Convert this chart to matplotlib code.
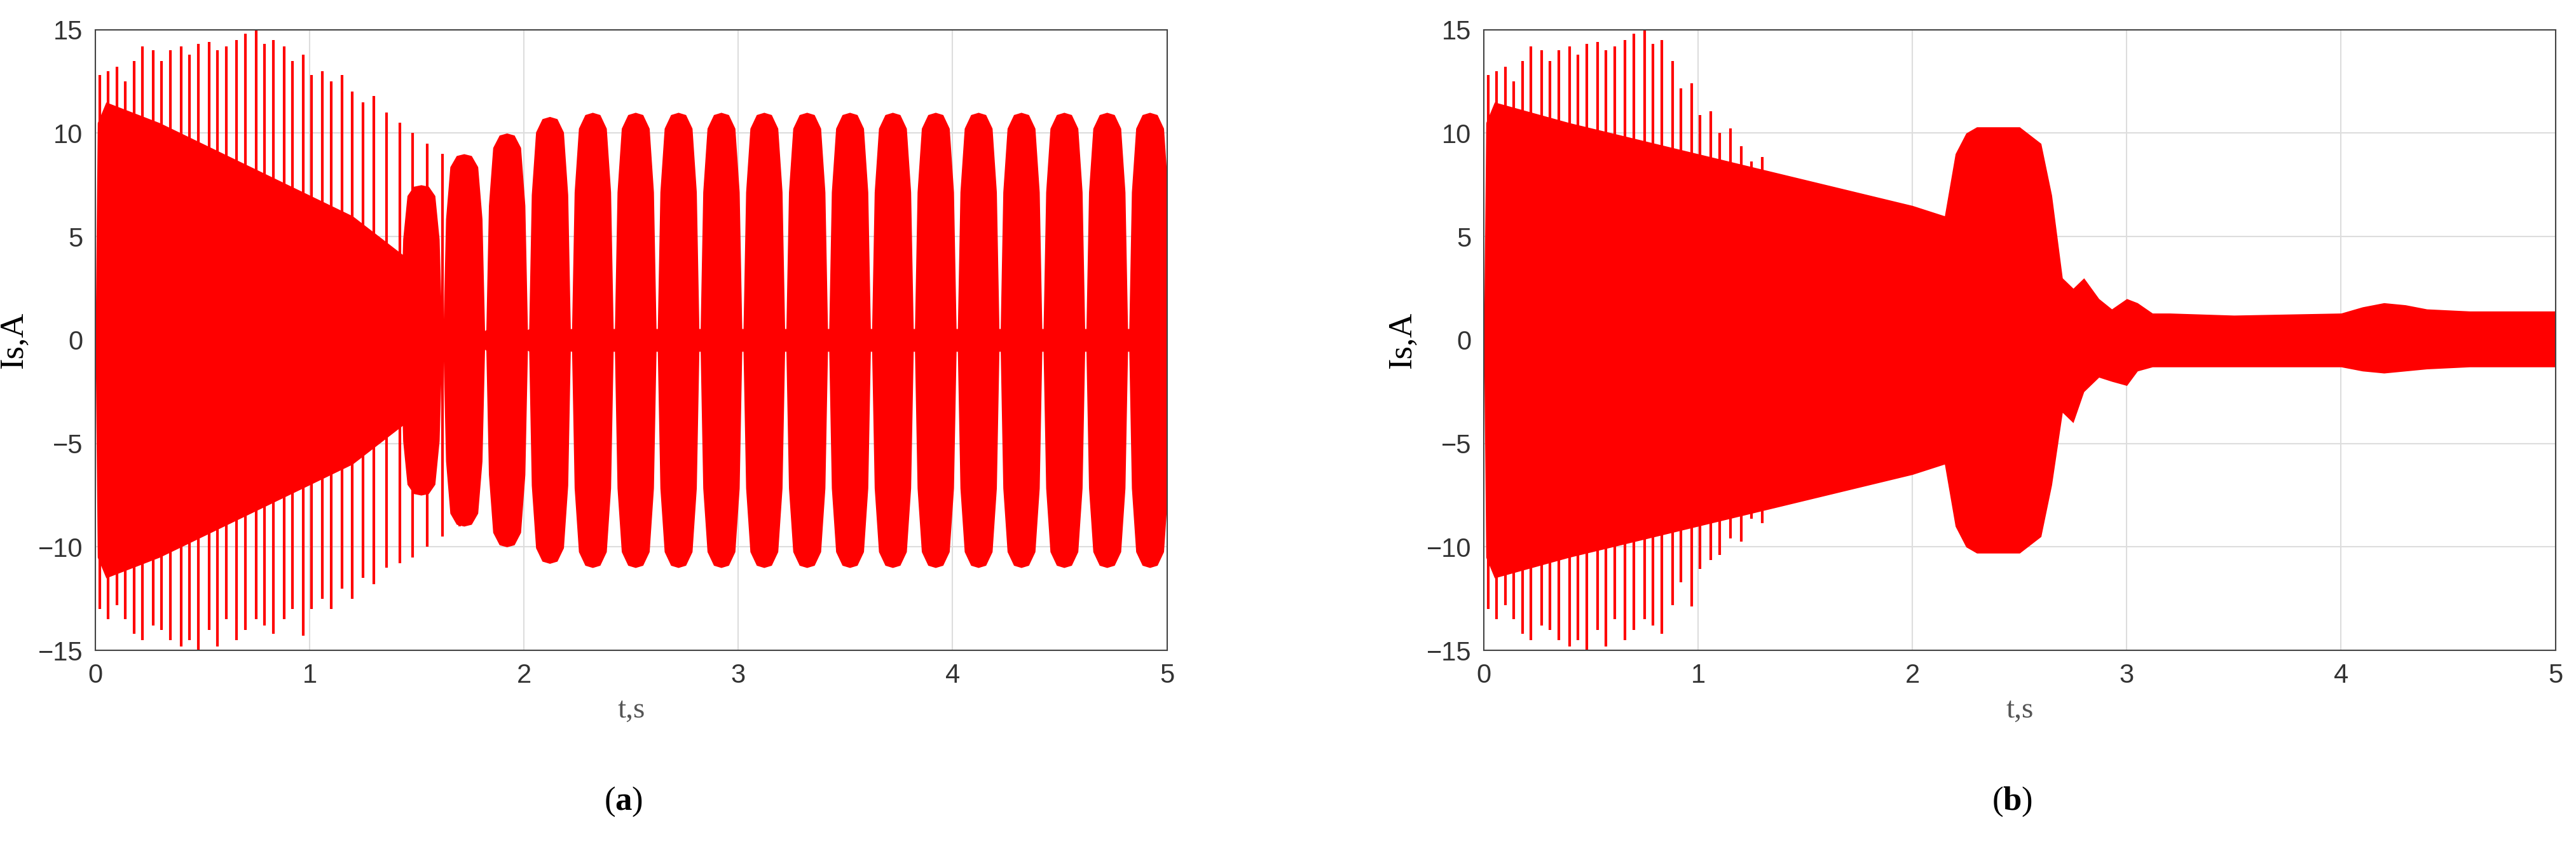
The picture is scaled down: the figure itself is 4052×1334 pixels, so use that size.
import numpy as np
import matplotlib.pyplot as plt

plt.rcParams['mathtext.fontset'] = 'custom'
plt.rcParams['mathtext.bf'] = 'Liberation Serif:bold'
plt.rcParams['mathtext.rm'] = 'Liberation Serif'

# envelope of the dense current trace (t in s, amplitude in A)
# panel (a): smooth core, then beating lobes
a_core_t = [0.0, 0.01, 0.05, 0.3, 0.6, 0.9, 1.2, 1.45]
a_core_v = [0.0, 10.5, 11.5, 10.5, 9.0, 7.5, 6.0, 4.0]
lobe_c = [1.52, 1.72, 1.92, 2.12, 2.32, 2.52, 2.72, 2.92, 3.12, 3.32, 3.52, 3.72, 3.92, 4.12, 4.32, 4.52, 4.72, 4.92]
lobe_a = [7.5, 9.0, 10.0, 10.8, 11.0, 11.0, 11.0, 11.0, 11.0, 11.0, 11.0, 11.0, 11.0, 11.0, 11.0, 11.0, 11.0, 11.0]
# shape of one lobe: time offset from centre, fraction of lobe height
lobe_dt = [-0.097, -0.085, -0.065, -0.035, 0.0, 0.035, 0.065, 0.085, 0.097]
lobe_f = [0.05, 0.65, 0.93, 0.99, 1.0, 0.99, 0.93, 0.65, 0.05]

# spikes in the first two seconds (shared start of both runs)
spike_t = [0.02, 0.06, 0.1, 0.14, 0.18, 0.22, 0.27, 0.31, 0.35, 0.4, 0.44, 0.48, 0.53, 0.57, 0.61,
           0.66, 0.7, 0.75, 0.79, 0.83, 0.88, 0.92, 0.97, 1.01, 1.06, 1.1, 1.15, 1.2, 1.25, 1.3,
           1.36, 1.42, 1.48, 1.55, 1.62, 1.7]
spike_up = [12.8, 13.0, 13.2, 12.5, 13.5, 14.2, 14.0, 13.5, 14.0, 14.2, 13.8, 14.3, 14.4, 14.0, 14.2,
            14.5, 14.8, 15.0, 14.3, 14.5, 14.2, 13.5, 13.8, 12.8, 13.0, 12.5, 12.8, 12.0, 11.5, 11.8,
            11.0, 10.5, 10.0, 9.5, 9.0, 8.5]
spike_lo = [-13.0, -13.5, -12.8, -13.5, -14.2, -14.5, -13.8, -14.0, -14.5, -14.8, -14.5, -15.0, -14.0, -14.8, -13.5,
            -14.5, -14.0, -13.5, -13.8, -14.2, -13.5, -13.0, -14.3, -13.0, -12.5, -13.0, -12.0, -12.5, -11.5, -11.8,
            -11.0, -10.8, -10.5, -10.0, -9.5, -9.0]

# panel (b)
b_t = [0.0, 0.01, 0.05, 0.4, 0.8, 1.2, 1.6, 2.0, 2.15, 2.2, 2.25, 2.3, 2.5, 2.6, 2.65, 2.7, 2.75,
       2.8, 2.87, 2.93, 3.0, 3.05, 3.12, 3.2, 3.5, 4.0, 4.1, 4.2, 4.3, 4.4, 4.6, 5.0]
b_up = [0.0, 10.5, 11.5, 10.5, 9.5, 8.5, 7.5, 6.5, 6.0, 9.0, 10.0, 10.3, 10.3, 9.5, 7.0, 3.0, 2.5,
        3.0, 2.0, 1.5, 2.0, 1.8, 1.3, 1.3, 1.2, 1.3, 1.6, 1.8, 1.7, 1.5, 1.4, 1.4]
b_lo = [0.0, -10.5, -11.5, -10.5, -9.5, -8.5, -7.5, -6.5, -6.0, -9.0, -10.0, -10.3, -10.3, -9.5, -7.0, -3.5, -4.0,
        -2.5, -1.8, -2.0, -2.2, -1.5, -1.3, -1.3, -1.3, -1.3, -1.5, -1.6, -1.5, -1.4, -1.3, -1.3]
b_spike_scale = [1.0] * 20 + [0.95, 0.9, 0.9, 0.85, 0.85, 0.8, 0.8, 0.78, 0.75, 0.75, 0.72, 0.7, 0.7, 0.68, 0.66, 0.64]

red = '#ff0000'
fig = plt.figure(figsize=(40.52, 13.34), dpi=100)
ax1 = fig.add_axes([0.037, 0.233, 0.416, 0.732])
ax2 = fig.add_axes([0.576, 0.233, 0.416, 0.732])

# panel a
ta = list(a_core_t)
va = list(a_core_v)
for c, amp in zip(lobe_c, lobe_a):
    for dt, f in zip(lobe_dt, lobe_f):
        ta.append(c + dt)
        va.append(max(amp * f, 0.4))
ta.append(5.0)
va.append(10.5)
ta = np.array(ta)
va = np.array(va)
ax1.fill_between(ta, -va, va, color=red, lw=0)
ax1.vlines(spike_t, spike_lo, spike_up, color=red, lw=3)

# panel b
ax2.fill_between(b_t, b_lo, b_up, color=red, lw=0)
sc = np.array(b_spike_scale)
ax2.vlines(spike_t, np.array(spike_lo) * sc, np.array(spike_up) * sc, color=red, lw=3)

for ax, lab in [(ax1, 'a'), (ax2, 'b')]:
    ax.set_xlim(0, 5)
    ax.set_ylim(-15, 15)
    ax.set_xticks(range(6))
    ax.set_yticks(range(-15, 16, 5))
    ax.grid(True, color='#dddddd', lw=1.5)
    ax.set_axisbelow(True)
    ax.tick_params(labelsize=30, colors='#333333', length=0, pad=14)
    for lbl in ax.get_xticklabels() + ax.get_yticklabels():
        lbl.set_family('Liberation Sans')
    for s in ax.spines.values():
        s.set_color('#444444')
        s.set_linewidth(1.5)
    ax.set_xlabel('t,s', fontsize=34, family='Liberation Serif', color='#555555', labelpad=10)
    ax.set_ylabel('Is,A', fontsize=38, family='Liberation Serif', labelpad=10)
    x0 = ax.get_position().x0 + ax.get_position().width / 2
    fig.text(x0 - 0.003, 0.045, r'$\mathrm{(}\mathbf{' + lab + r'}\mathrm{)}$', fontsize=38, ha='center')

fig.savefig('out.png', dpi=100)
